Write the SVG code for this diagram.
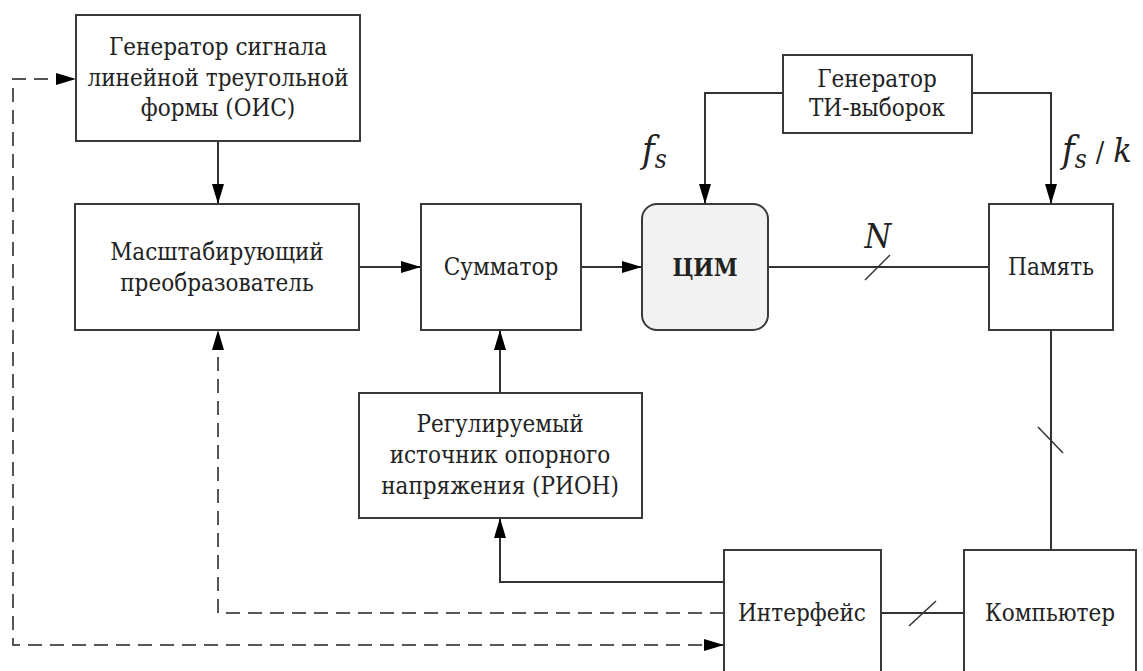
<svg xmlns="http://www.w3.org/2000/svg" width="1143" height="671" viewBox="0 0 1143 671">
<defs>
<style>
.box{fill:#fff;stroke:#3a3a3a;stroke-width:2}
.cim{fill:#f2f2f2;stroke:#3a3a3a;stroke-width:2}
.t{font-size:24px;fill:#222;text-anchor:middle;font-stretch:semi-condensed}
.b{font-weight:bold}
.m{font-style:italic;fill:#222}
.ln{fill:none;stroke:#333;stroke-width:2}
.dl{fill:none;stroke:#555;stroke-width:2;stroke-dasharray:14 8}
.sl{stroke:#333;stroke-width:1.5}
</style>
<marker id="ah" markerWidth="20" markerHeight="12" refX="20" refY="6" orient="auto" markerUnits="userSpaceOnUse">
<path d="M0,0 L20,6 L0,12 z" fill="#000"/>
</marker>
</defs>

<g id="connectors">
<line class="ln" x1="218" y1="141" x2="218" y2="204" marker-end="url(#ah)"/>
<line class="ln" x1="359" y1="267" x2="421" y2="267" marker-end="url(#ah)"/>
<line class="ln" x1="581" y1="267" x2="642" y2="267" marker-end="url(#ah)"/>
<line class="ln" x1="768" y1="267" x2="989" y2="267"/>
<line class="sl" x1="865" y1="280" x2="890" y2="255"/>
<polyline class="ln" points="783,93 705,93 705,204" marker-end="url(#ah)"/>
<polyline class="ln" points="972,93 1051,93 1051,204" marker-end="url(#ah)"/>
<line class="ln" x1="500" y1="393" x2="500" y2="330" marker-end="url(#ah)"/>
<polyline class="ln" points="724,582 500,582 500,518" marker-end="url(#ah)"/>
<polyline class="dl" points="724,613 218,613 218,330" marker-end="url(#ah)"/>
<polyline class="dl" points="724,645 13,645 13,79 76,79" marker-end="url(#ah)"/>
<path d="M704,645 L724,645" stroke="none" marker-end="url(#ah)"/>
<line class="ln" x1="881" y1="613" x2="964" y2="613"/>
<line class="sl" x1="909" y1="626" x2="936" y2="601"/>
<line class="ln" x1="1051" y1="330" x2="1051" y2="550"/>
<line class="sl" x1="1038" y1="427" x2="1063" y2="453"/>
</g>

<g font-family="'DejaVu Serif Condensed', 'DejaVu Serif', serif">
<g id="node-ois">
<rect class="box" x="76" y="15" width="284" height="126"/>
<text class="t" x="218" y="55">Генератор сигнала</text>
<text class="t" x="218" y="86">линейной треугольной</text>
<text class="t" x="218" y="116">формы (ОИС)</text>
</g>
<g id="node-scale">
<rect class="box" x="75" y="204" width="284" height="126"/>
<text class="t" x="217" y="260">Масштабирующий</text>
<text class="t" x="217" y="291">преобразователь</text>
</g>
<g id="node-sum">
<rect class="box" x="421" y="204" width="160" height="126"/>
<text class="t" x="501" y="275">Сумматор</text>
</g>
<g id="node-cim">
<rect class="cim" x="642" y="204" width="126" height="126" rx="15" ry="15"/>
<text class="t b" x="705" y="276">ЦИМ</text>
</g>
<g id="node-mem">
<rect class="box" x="989" y="204" width="124" height="126"/>
<text class="t" x="1051" y="275">Память</text>
</g>
<g id="node-gen">
<rect class="box" x="783" y="55" width="189" height="78"/>
<text class="t" x="877" y="87">Генератор</text>
<text class="t" x="877" y="116">ТИ-выборок</text>
</g>
<g id="node-rion">
<rect class="box" x="359" y="393" width="283" height="125"/>
<text class="t" x="500" y="432">Регулируемый</text>
<text class="t" x="500" y="463">источник опорного</text>
<text class="t" x="500" y="494">напряжения (РИОН)</text>
</g>
<g id="node-iface">
<rect class="box" x="724" y="550" width="157" height="130"/>
<text class="t" x="802" y="621">Интерфейс</text>
</g>
<g id="node-pc">
<rect class="box" x="964" y="550" width="172" height="130"/>
<text class="t" x="1050" y="621">Компьютер</text>
</g>

<g id="labels">
<text class="m" x="642" y="162" font-size="38">f<tspan font-size="26" dy="6">s</tspan></text>
<text class="m" x="1062" y="162" font-size="38">f<tspan font-size="26" dy="6">s</tspan><tspan dy="-6" font-size="28" font-style="normal" dx="9">/</tspan><tspan font-size="34" dx="9">k</tspan></text>
<text class="m" x="878" y="248" font-size="34" text-anchor="middle">N</text>
</g>
</g>
</svg>
